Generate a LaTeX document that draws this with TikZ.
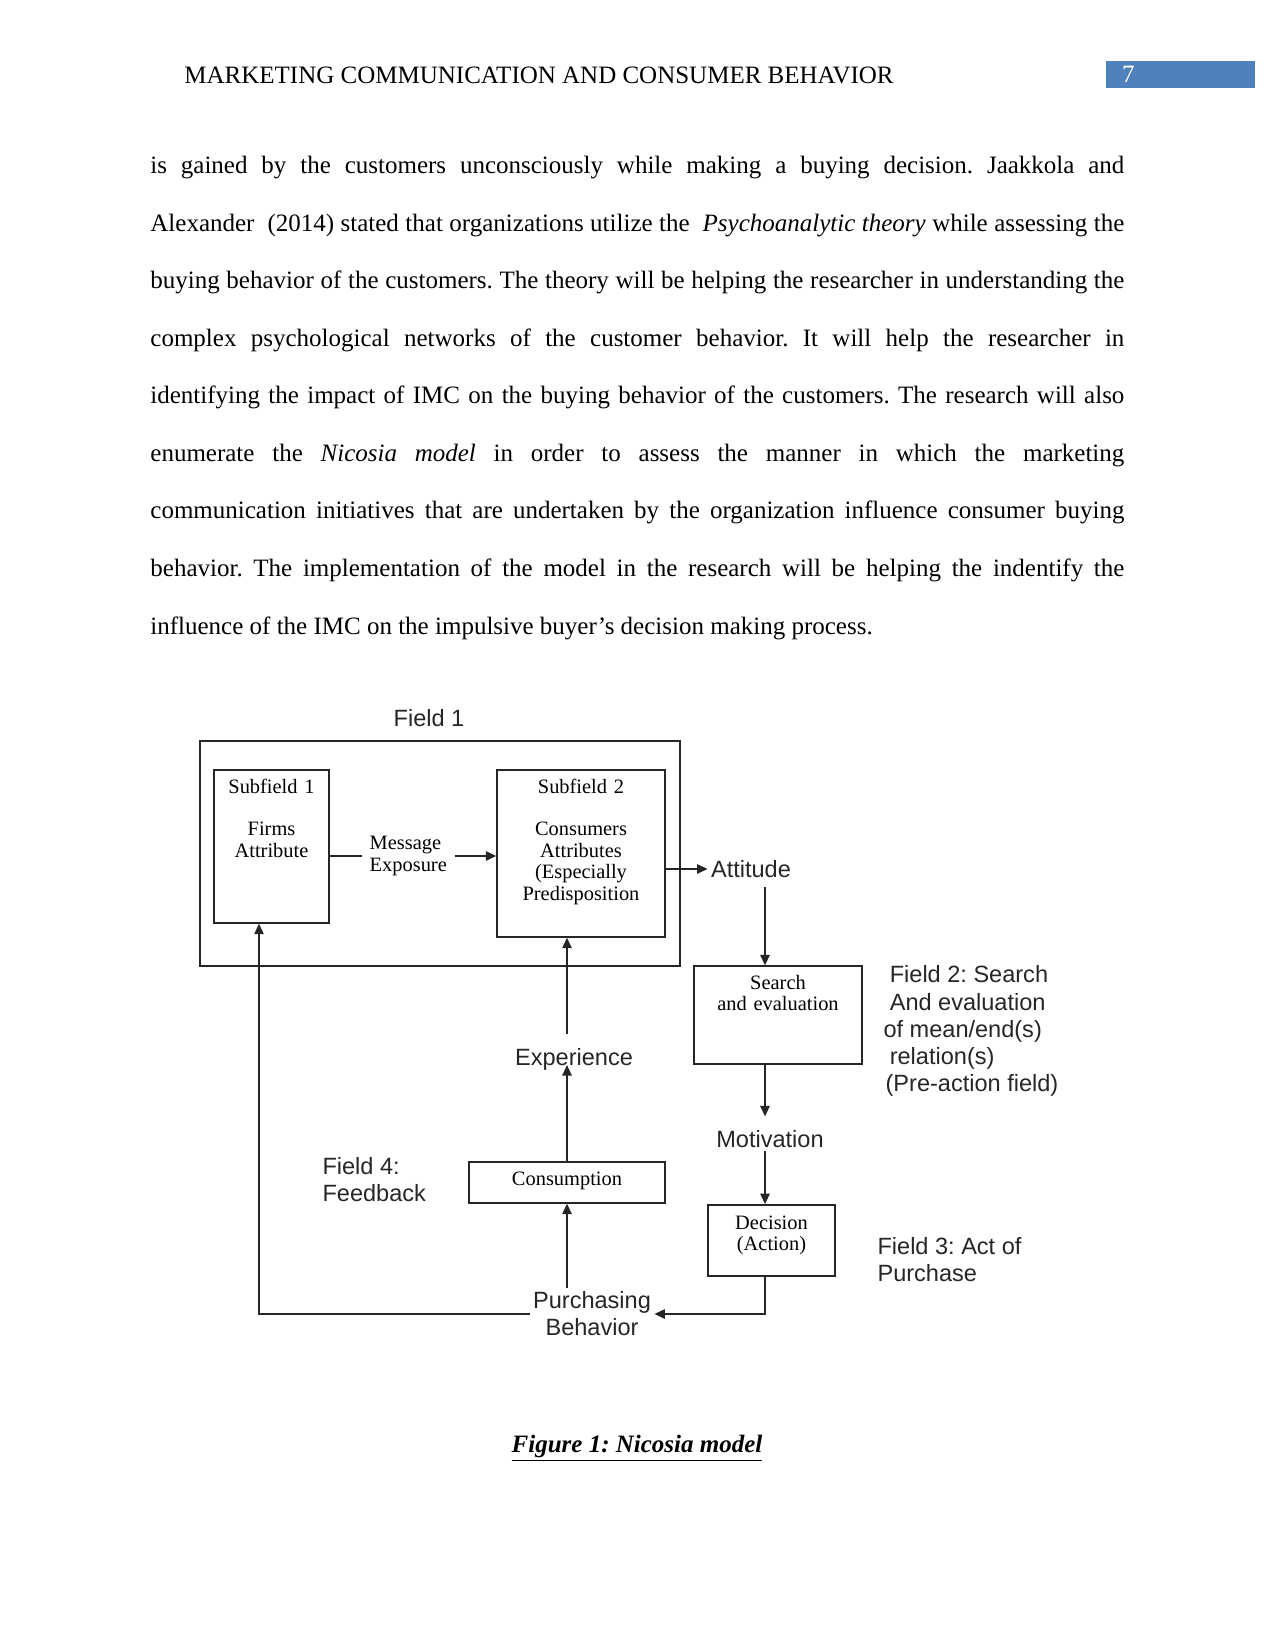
\documentclass[tikz,border=0pt]{standalone}
\usepackage{fontspec}
\setmainfont{Liberation Serif}
\newfontfamily\arialf{Liberation Sans}
\usepackage{xcolor}
\usepackage{tikz}
\usetikzlibrary{arrows.meta,positioning}
\definecolor{pgblue}{RGB}{79,129,189}
\frenchspacing
\tikzset{
  sbox/.style n args={3}{
    rectangle, draw=black!85, line width=0.7pt,
    text width=#1, text height=#2, text depth=#3,
    inner sep=0pt, align=center, font=\fontsize{9.8}{10.3}\selectfont
  },
  flbl/.style={font=\arialf\fontsize{11.3}{13}\selectfont, text=black!85, inner sep=1.5pt},
  arr/.style={-{Triangle[length=5pt,width=4.5pt]}, line width=0.7pt, black!85},
  lin/.style={line width=0.7pt, black!85}
}
\begin{document}
\begin{tikzpicture}[x=0.48pt, y=-0.48pt]
\useasboundingbox (0,0) rectangle (1275,1650);

% Running head
\node[anchor=base west, inner sep=0pt, font=\fontsize{12}{14}\selectfont] (head) at (184,84)
  {MARKETING COMMUNICATION AND CONSUMER BEHAVIOR};
\node[fill=pgblue, text=white, minimum height=13pt, text width=56.1pt,
  inner xsep=7.7pt, inner ysep=0pt, align=left,
  font=\fontsize{12}{14}\selectfont] (pgno) at (1180.5,74.5) {7};

% Body text
\node[anchor=base west, inner sep=0pt, text width=467.5pt, align=justify,
  font=\fontsize{12}{27.6}\selectfont] (body) at (150,174)
  {\tolerance=10000 \hyphenpenalty=10000
   is gained by the customers unconsciously while making a buying decision. Jaakkola and\linebreak
   Alexander\ \ (2014) stated that organizations utilize the\ \ \textit{Psychoanalytic theory} while assessing the\linebreak
   buying behavior of the customers. The theory will be helping the researcher in understanding the\linebreak
   complex psychological networks of the customer behavior. It will help the researcher in\linebreak
   identifying the impact of IMC on the buying behavior of the customers. The research will also\linebreak
   enumerate the \textit{Nicosia model} in order to assess the manner in which the marketing\linebreak
   communication initiatives that are undertaken by the organization influence consumer buying\linebreak
   behavior. The implementation of the model in the research will be helping the indentify the\linebreak
   influence of the IMC on the impulsive buyer’s decision making process.};

% Field 1
\node[lin, draw, minimum width=230.4pt, minimum height=108pt, inner sep=0pt] (field1) at (440,853.5) {};
\node[flbl] (f1lbl) at (429,718) {Field 1};

\node[sbox={55.2pt}{11pt}{62.4pt}, anchor=base] (sub1) at (271.5,793)
  {Subfield 1\\[10.3pt]Firms\\Attribute};
\node[sbox={80.6pt}{11pt}{69.1pt}, anchor=base] (sub2) at (581,793)
  {Subfield 2\\[10.3pt]Consumers\\Attributes\\(Especially\\Predisposition};
\node[align=left, inner xsep=3.5pt, font=\fontsize{9.8}{10.3}\selectfont, anchor=west] (msg) at (362,856)
  {Message\\Exposure};

% Field 2
\node[flbl] (att) at (751,869) {Attitude};
\node[sbox={80.6pt}{11pt}{36pt}, anchor=base] (srch) at (778,989)
  {Search\\and evaluation};
\node[flbl, align=left, anchor=west] (f2) at (880,1031)
  {\hspace*{3pt}Field 2: Search\\\hspace*{3pt}And evaluation\\of mean/end(s)\\\hspace*{3pt}relation(s)\\\hspace*{1pt}(Pre-action field)};
\node[flbl] (motiv) at (770,1139) {Motivation};

% Field 3
\node[sbox={61pt}{11.6pt}{22.5pt}, anchor=base] (dec) at (771.5,1229)
  {Decision\\(Action)};
\node[flbl, align=left, anchor=west] (f3) at (874,1259.5) {Field 3: Act of\\Purchase};

% Field 4
\node[flbl] (exper) at (574,1059) {Experience};
\node[sbox={94pt}{11pt}{8.6pt}, anchor=base] (cons) at (567,1185) {Consumption};
\node[flbl, align=left, anchor=west] (f4) at (319,1180) {Field 4:\\Feedback};
\node[flbl, align=center] (purch) at (592,1314) {Purchasing\\Behavior};

% Caption
\node[anchor=base, inner sep=0pt, font=\fontsize{12}{14}\selectfont\bfseries\itshape] (cap) at (637,1452)
  {\underline{Figure 1: Nicosia model}};

% Arrows
\coordinate (col) at (765,0);
\coordinate (fbx) at (259,0);
\draw[lin] (sub1.east |- msg.west) -- (msg.west);
\draw[arr] (msg.east) -- (sub2.west |- msg.east);
\draw[arr] (sub2.east |- att.west) -- (att.west);
\draw[arr] ([yshift=-3pt]att.south -| col) -- (srch.north -| col);
\draw[arr] (srch.south -| col) -- ([yshift=5pt]motiv.north -| col);
\draw[arr] (motiv.south -| col) -- (dec.north -| col);
\draw[arr] (dec.south -| col) |- (purch.east);
\draw[arr] (purch.north -| cons) -- (cons.south);
\draw[arr] (cons.north) -- (cons.north |- exper.base);
\draw[arr] ([yshift=5pt]exper.north -| cons) -- (sub2.south -| cons);
\draw[arr] (purch.west) -| (fbx |- sub1.south);

\end{tikzpicture}
\end{document}
